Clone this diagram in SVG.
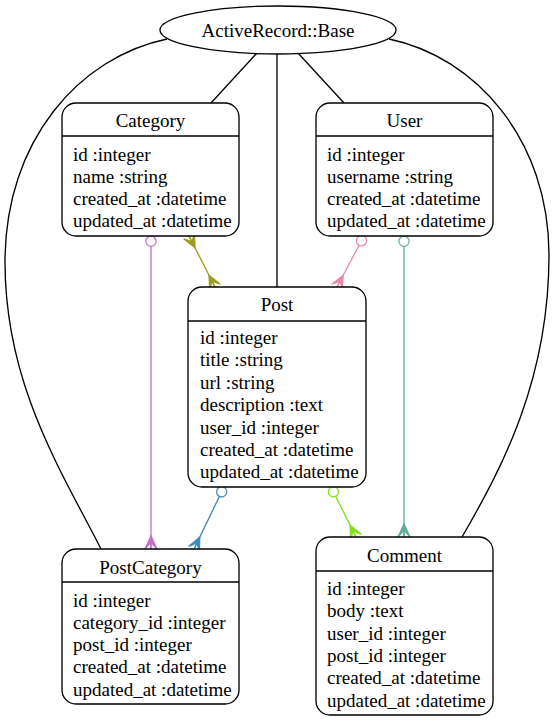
<svg xmlns="http://www.w3.org/2000/svg" width="554" height="723" viewBox="0 0 554 723">
<defs>
<marker id="crow-mag" markerUnits="userSpaceOnUse" viewBox="-15 -8 17 16" refX="0" refY="0" markerWidth="17" markerHeight="16" orient="auto-start-reverse"><path d="M-13.3,0 L0,-6 L-6.65,0 L0,6 Z M-6.65,0 L0,0" fill="#c96bc9" stroke="#c96bc9" stroke-width="1.2"/></marker>
<marker id="odot-mag" markerUnits="userSpaceOnUse" viewBox="-13 -7 15 14" refX="0" refY="0" markerWidth="15" markerHeight="14" orient="auto-start-reverse"><circle cx="-5.33" cy="0" r="5.1" fill="#fff" stroke="#c96bc9" stroke-width="1.2"/></marker>
<marker id="crow-oli" markerUnits="userSpaceOnUse" viewBox="-15 -8 17 16" refX="0" refY="0" markerWidth="17" markerHeight="16" orient="auto-start-reverse"><path d="M-13.3,0 L0,-6 L-6.65,0 L0,6 Z M-6.65,0 L0,0" fill="#9c9c1e" stroke="#9c9c1e" stroke-width="1.2"/></marker>
<marker id="crow-pnk" markerUnits="userSpaceOnUse" viewBox="-15 -8 17 16" refX="0" refY="0" markerWidth="17" markerHeight="16" orient="auto-start-reverse"><path d="M-13.3,0 L0,-6 L-6.65,0 L0,6 Z M-6.65,0 L0,0" fill="#e98aa6" stroke="#e98aa6" stroke-width="1.2"/></marker>
<marker id="odot-pnk" markerUnits="userSpaceOnUse" viewBox="-13 -7 15 14" refX="0" refY="0" markerWidth="15" markerHeight="14" orient="auto-start-reverse"><circle cx="-5.33" cy="0" r="5.1" fill="#fff" stroke="#e98aa6" stroke-width="1.2"/></marker>
<marker id="crow-tea" markerUnits="userSpaceOnUse" viewBox="-15 -8 17 16" refX="0" refY="0" markerWidth="17" markerHeight="16" orient="auto-start-reverse"><path d="M-13.3,0 L0,-6 L-6.65,0 L0,6 Z M-6.65,0 L0,0" fill="#62ae9c" stroke="#62ae9c" stroke-width="1.2"/></marker>
<marker id="odot-tea" markerUnits="userSpaceOnUse" viewBox="-13 -7 15 14" refX="0" refY="0" markerWidth="15" markerHeight="14" orient="auto-start-reverse"><circle cx="-5.33" cy="0" r="5.1" fill="#fff" stroke="#62ae9c" stroke-width="1.2"/></marker>
<marker id="crow-blu" markerUnits="userSpaceOnUse" viewBox="-15 -8 17 16" refX="0" refY="0" markerWidth="17" markerHeight="16" orient="auto-start-reverse"><path d="M-13.3,0 L0,-6 L-6.65,0 L0,6 Z M-6.65,0 L0,0" fill="#3e8abb" stroke="#3e8abb" stroke-width="1.2"/></marker>
<marker id="odot-blu" markerUnits="userSpaceOnUse" viewBox="-13 -7 15 14" refX="0" refY="0" markerWidth="15" markerHeight="14" orient="auto-start-reverse"><circle cx="-5.33" cy="0" r="5.1" fill="#fff" stroke="#3e8abb" stroke-width="1.2"/></marker>
<marker id="crow-grn" markerUnits="userSpaceOnUse" viewBox="-15 -8 17 16" refX="0" refY="0" markerWidth="17" markerHeight="16" orient="auto-start-reverse"><path d="M-13.3,0 L0,-6 L-6.65,0 L0,6 Z M-6.65,0 L0,0" fill="#7fe020" stroke="#7fe020" stroke-width="1.2"/></marker>
<marker id="odot-grn" markerUnits="userSpaceOnUse" viewBox="-13 -7 15 14" refX="0" refY="0" markerWidth="15" markerHeight="14" orient="auto-start-reverse"><circle cx="-5.33" cy="0" r="5.1" fill="#fff" stroke="#7fe020" stroke-width="1.2"/></marker>
</defs>
<rect width="554" height="723" fill="#fff"/>
<g id="connectors" fill="none" stroke-width="1.33">
<path stroke="#000" d="M257,53 L211,103"/>
<path stroke="#000" d="M298,53 L344,103"/>
<path stroke="#000" d="M277,54 L277,287"/>
<path stroke="#000" d="M167,39 C80,57 5,140 5,262 C5,385 62,472 101,549"/>
<path stroke="#000" d="M389,39 C476,57 549,140 549,255 C549,380 502,468 462,537"/>
<path stroke="#c96bc9" d="M151,236 L151,549" marker-start="url(#odot-mag)" marker-end="url(#crow-mag)"/>
<path stroke="#9c9c1e" d="M189,236 L215,287" marker-start="url(#crow-oli)" marker-end="url(#crow-oli)"/>
<path stroke="#e98aa6" d="M364,236 L337,287" marker-start="url(#odot-pnk)" marker-end="url(#crow-pnk)"/>
<path stroke="#62ae9c" d="M404,236 L404,537" marker-start="url(#odot-tea)" marker-end="url(#crow-tea)"/>
<path stroke="#3e8abb" d="M224,487 L194,549" marker-start="url(#odot-blu)" marker-end="url(#crow-blu)"/>
<path stroke="#7fe020" d="M331,487 L356,537" marker-start="url(#odot-grn)" marker-end="url(#crow-grn)"/>
</g>
<g id="base">
<ellipse fill="#fff" stroke="#000" stroke-width="1.33" cx="278" cy="30" rx="118" ry="24"/>
<text font-family="Liberation Serif" font-size="19" text-anchor="middle" x="278" y="37">ActiveRecord::Base</text>
</g>
<g id="category">
<rect fill="#fff" stroke="#000" stroke-width="1.33" x="62" y="103" width="177" height="133" rx="14"/>
<line stroke="#000" stroke-width="1.33" x1="62" y1="136" x2="239" y2="136"/>
<text font-family="Liberation Serif" font-size="19" text-anchor="middle" x="150.5" y="127">Category</text>
<text font-family="Liberation Serif" font-size="19" x="73" y="161">id :integer</text>
<text font-family="Liberation Serif" font-size="19" x="73" y="183">name :string</text>
<text font-family="Liberation Serif" font-size="19" x="73" y="205">created_at :datetime</text>
<text font-family="Liberation Serif" font-size="19" x="73" y="227">updated_at :datetime</text>
</g>
<g id="user">
<rect fill="#fff" stroke="#000" stroke-width="1.33" x="316" y="103" width="177" height="133" rx="14"/>
<line stroke="#000" stroke-width="1.33" x1="316" y1="136" x2="493" y2="136"/>
<text font-family="Liberation Serif" font-size="19" text-anchor="middle" x="404.5" y="127">User</text>
<text font-family="Liberation Serif" font-size="19" x="327" y="161">id :integer</text>
<text font-family="Liberation Serif" font-size="19" x="327" y="183">username :string</text>
<text font-family="Liberation Serif" font-size="19" x="327" y="205">created_at :datetime</text>
<text font-family="Liberation Serif" font-size="19" x="327" y="227">updated_at :datetime</text>
</g>
<g id="post">
<rect fill="#fff" stroke="#000" stroke-width="1.33" x="188" y="287" width="178" height="200" rx="14"/>
<line stroke="#000" stroke-width="1.33" x1="188" y1="321" x2="366" y2="321"/>
<text font-family="Liberation Serif" font-size="19" text-anchor="middle" x="277" y="311">Post</text>
<text font-family="Liberation Serif" font-size="19" x="200" y="344">id :integer</text>
<text font-family="Liberation Serif" font-size="19" x="200" y="366">title :string</text>
<text font-family="Liberation Serif" font-size="19" x="200" y="389">url :string</text>
<text font-family="Liberation Serif" font-size="19" x="200" y="411">description :text</text>
<text font-family="Liberation Serif" font-size="19" x="200" y="434">user_id :integer</text>
<text font-family="Liberation Serif" font-size="19" x="200" y="456">created_at :datetime</text>
<text font-family="Liberation Serif" font-size="19" x="200" y="478">updated_at :datetime</text>
</g>
<g id="postcategory">
<rect fill="#fff" stroke="#000" stroke-width="1.33" x="62" y="549" width="177" height="155" rx="14"/>
<line stroke="#000" stroke-width="1.33" x1="62" y1="582" x2="239" y2="582"/>
<text font-family="Liberation Serif" font-size="19" text-anchor="middle" x="150.5" y="574">PostCategory</text>
<text font-family="Liberation Serif" font-size="19" x="73" y="607">id :integer</text>
<text font-family="Liberation Serif" font-size="19" x="73" y="629">category_id :integer</text>
<text font-family="Liberation Serif" font-size="19" x="73" y="651">post_id :integer</text>
<text font-family="Liberation Serif" font-size="19" x="73" y="673">created_at :datetime</text>
<text font-family="Liberation Serif" font-size="19" x="73" y="696">updated_at :datetime</text>
</g>
<g id="comment">
<rect fill="#fff" stroke="#000" stroke-width="1.33" x="316" y="537" width="177" height="178" rx="14"/>
<line stroke="#000" stroke-width="1.33" x1="316" y1="571" x2="493" y2="571"/>
<text font-family="Liberation Serif" font-size="19" text-anchor="middle" x="404.5" y="562">Comment</text>
<text font-family="Liberation Serif" font-size="19" x="327" y="595">id :integer</text>
<text font-family="Liberation Serif" font-size="19" x="327" y="617">body :text</text>
<text font-family="Liberation Serif" font-size="19" x="327" y="640">user_id :integer</text>
<text font-family="Liberation Serif" font-size="19" x="327" y="662">post_id :integer</text>
<text font-family="Liberation Serif" font-size="19" x="327" y="684">created_at :datetime</text>
<text font-family="Liberation Serif" font-size="19" x="327" y="707">updated_at :datetime</text>
</g>
</svg>
